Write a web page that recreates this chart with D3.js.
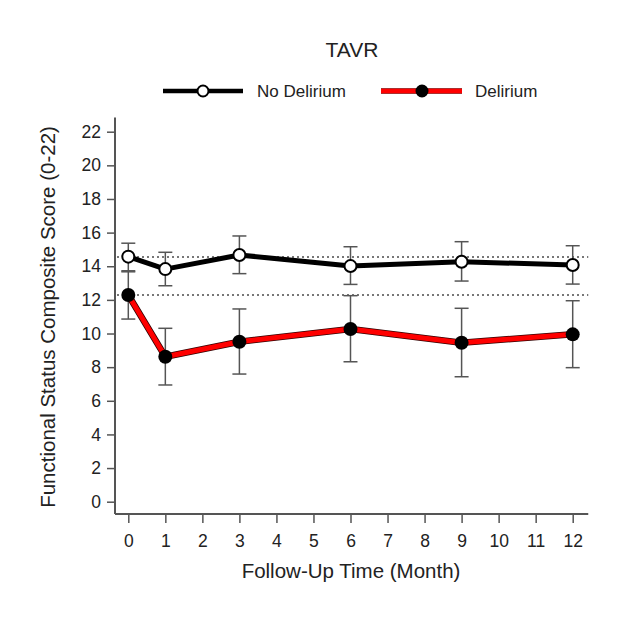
<!DOCTYPE html>
<html>
<head>
<meta charset="utf-8">
<script src="https://cdn.jsdelivr.net/npm/d3@7"></script>
<style>
    body { margin: 0; background: #fff; }
    svg text { font-family: Arial, "Liberation Sans", sans-serif; fill: #222; }
</style>
</head>
<body>
<svg class="chart" width="628" height="623"></svg>
<script>
// follow-up months and y ticks
var months = [0, 1, 3, 6, 9, 12];
var xTicks = [0, 1, 2, 3, 4, 5, 6, 7, 8, 9, 10, 11, 12];
var yTicks = [0, 2, 4, 6, 8, 10, 12, 14, 16, 18, 20, 22];

// No Delirium: mean, lower, upper
var noDelMean = [14.57, 13.83, 14.67, 14.01, 14.27, 14.07];
var noDelLow  = [13.73, 12.84, 13.56, 12.92, 13.12, 12.94];
var noDelHigh = [15.37, 14.83, 15.80, 15.16, 15.46, 15.22];

// Delirium: mean, lower, upper
var delMean = [12.29, 8.62, 9.51, 10.27, 9.45, 9.95];
var delLow  = [10.86, 6.94, 7.59, 8.32, 7.43, 7.97];
var delHigh = [13.67, 10.31, 11.46, 12.25, 11.50, 11.95];

var baselines = [14.55, 12.29];

function makeSeries(mean, low, high) {
    return months.map(function(m, i) {
        return { month: m, mean: mean[i], low: low[i], high: high[i] };
    });
}

var noDel = makeSeries(noDelMean, noDelLow, noDelHigh);
var del = makeSeries(delMean, delLow, delHigh);

var svg = d3.select(".chart");

var x = d3.scaleLinear().domain([0, 12]).range([128.3, 572.7]);
var y = d3.scaleLinear().domain([0, 22]).range([501.7, 131.7]);

var axisX = 115, axisY = 514;
var axisColor = "#555";

// title
svg.append("text")
    .attr("x", 352).attr("y", 57)
    .attr("text-anchor", "middle")
    .style("font-size", "21px")
    .text("TAVR");

// legend
var legend = [
    { label: "No Delirium", x0: 163, x1: 243, cx: 203, tx: 257, color: "#000", fill: "#fff", outline: false },
    { label: "Delirium", x0: 381, x1: 462, cx: 422, tx: 475, color: "#f00", fill: "#000", outline: true }
];
var lg = svg.selectAll("g.legend").data(legend).enter().append("g").attr("class", "legend");
lg.filter(function(d) { return d.outline; }).append("line")
    .attr("x1", function(d) { return d.x0; }).attr("x2", function(d) { return d.x1; })
    .attr("y1", 91).attr("y2", 91)
    .attr("stroke", "#600").attr("stroke-width", 5.5);
lg.append("line")
    .attr("x1", function(d) { return d.x0; }).attr("x2", function(d) { return d.x1; })
    .attr("y1", 91).attr("y2", 91)
    .attr("stroke", function(d) { return d.color; }).attr("stroke-width", 4.5);
lg.append("circle")
    .attr("cx", function(d) { return d.cx; }).attr("cy", 91).attr("r", 5.5)
    .attr("fill", function(d) { return d.fill; })
    .attr("stroke", "#000").attr("stroke-width", 2);
lg.append("text")
    .attr("x", function(d) { return d.tx; }).attr("y", 97)
    .style("font-size", "17px")
    .text(function(d) { return d.label; });

// axes
var yAxis = d3.axisLeft(y).tickValues(yTicks).tickSize(8).tickPadding(6).tickSizeOuter(0);
var gy = svg.append("g")
    .attr("transform", "translate(" + axisX + ",0)")
    .call(yAxis);
gy.select(".domain").remove();
gy.selectAll("line").attr("stroke", axisColor).attr("stroke-width", 1.5);
gy.selectAll("text").style("font-size", "17.5px").attr("fill", "#222");

var xAxis = d3.axisBottom(x).tickValues(xTicks).tickSize(8).tickPadding(12).tickSizeOuter(0);
var gx = svg.append("g")
    .attr("transform", "translate(0," + (axisY + 1) + ")")
    .call(xAxis);
gx.select(".domain").remove();
gx.selectAll("line").attr("stroke", axisColor).attr("stroke-width", 1.5);
gx.selectAll("text").style("font-size", "17.5px").attr("fill", "#222");

svg.append("line")
    .attr("x1", axisX).attr("x2", axisX)
    .attr("y1", y(22.85)).attr("y2", axisY)
    .attr("stroke", axisColor).attr("stroke-width", 2);
svg.append("line")
    .attr("x1", axisX).attr("x2", x(12.42))
    .attr("y1", axisY).attr("y2", axisY)
    .attr("stroke", axisColor).attr("stroke-width", 2);

// axis titles
svg.append("text")
    .attr("x", 351).attr("y", 578)
    .attr("text-anchor", "middle")
    .style("font-size", "20.5px")
    .text("Follow-Up Time (Month)");
svg.append("text")
    .attr("transform", "translate(55,317) rotate(-90)")
    .attr("text-anchor", "middle")
    .style("font-size", "20.5px")
    .text("Functional Status Composite Score (0-22)");

// dotted baseline references
svg.selectAll("line.ref")
    .data(baselines)
    .enter().append("line")
    .attr("class", "ref")
    .attr("x1", axisX + 2).attr("x2", x(12.42))
    .attr("y1", function(d) { return y(d); })
    .attr("y2", function(d) { return y(d); })
    .attr("stroke", "#777").attr("stroke-width", 2)
    .attr("stroke-dasharray", "2,3");

// error bars
function drawErrors(data) {
    var g = svg.append("g").attr("class", "errors");
    var cap = 7;
    g.selectAll("line.v").data(data).enter().append("line")
        .attr("x1", function(d) { return x(d.month); })
        .attr("x2", function(d) { return x(d.month); })
        .attr("y1", function(d) { return y(d.low); })
        .attr("y2", function(d) { return y(d.high); })
        .attr("stroke", "#555").attr("stroke-width", 1.5);
    ["low", "high"].forEach(function(k) {
        g.selectAll("line." + k).data(data).enter().append("line")
            .attr("x1", function(d) { return x(d.month) - cap; })
            .attr("x2", function(d) { return x(d.month) + cap; })
            .attr("y1", function(d) { return y(d[k]); })
            .attr("y2", function(d) { return y(d[k]); })
            .attr("stroke", "#555").attr("stroke-width", 1.5);
    });
}
drawErrors(noDel);
drawErrors(del);

var line = d3.line()
    .x(function(d) { return x(d.month); })
    .y(function(d) { return y(d.mean); });

// delirium line: red with dark outline
svg.append("path").datum(del)
    .attr("d", line)
    .attr("fill", "none").attr("stroke", "#300").attr("stroke-width", 6.5)
    .attr("stroke-linejoin", "round");
svg.append("path").datum(del)
    .attr("d", line)
    .attr("fill", "none").attr("stroke", "#f00").attr("stroke-width", 5)
    .attr("stroke-linejoin", "round");

svg.append("path").datum(noDel)
    .attr("d", line)
    .attr("fill", "none").attr("stroke", "#000").attr("stroke-width", 5)
    .attr("stroke-linejoin", "round");

svg.selectAll("circle.del").data(del).enter().append("circle")
    .attr("class", "del")
    .attr("cx", function(d) { return x(d.month); })
    .attr("cy", function(d) { return y(d.mean); })
    .attr("r", 7)
    .attr("fill", "#000");

svg.selectAll("circle.nodel").data(noDel).enter().append("circle")
    .attr("class", "nodel")
    .attr("cx", function(d) { return x(d.month); })
    .attr("cy", function(d) { return y(d.mean); })
    .attr("r", 6)
    .attr("fill", "#fff")
    .attr("stroke", "#000").attr("stroke-width", 2);
</script>
</body>
</html>
